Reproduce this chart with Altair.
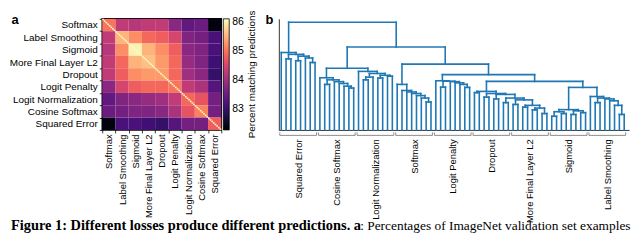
import altair as alt
import pandas as pd

SANS = "Liberation Sans"
SERIF = "Liberation Serif"

# ---------------- panel a : agreement heatmap ----------------
HEAT_GROUPS = ["Softmax", "Label Smoothing", "Sigmoid", "More Final Layer L2", "Dropout",
               "Logit Penalty", "Logit Normalization", "Cosine Softmax", "Squared Error"]
MODELS_PER_GROUP = 8
# mean % matching predictions between groups (rows / cols in HEAT_GROUPS order)
BLOCK_AGREEMENT = [
    [85.0, 84.3, 84.2, 84.3, 84.3, 83.8, 83.4, 83.5, 82.4],
    [84.3, 85.5, 85.2, 84.9, 84.8, 84.5, 83.7, 83.6, 83.2],
    [84.2, 85.2, 86.0, 85.5, 85.2, 84.8, 83.8, 83.7, 83.2],
    [84.3, 84.9, 85.5, 85.6, 85.3, 84.9, 83.9, 83.7, 83.1],
    [84.3, 84.8, 85.2, 85.3, 85.3, 84.9, 84.0, 83.8, 83.0],
    [83.8, 84.5, 84.8, 84.9, 84.9, 85.0, 84.3, 84.1, 83.3],
    [83.4, 83.7, 83.8, 83.9, 84.0, 84.3, 84.9, 84.7, 83.6],
    [83.5, 83.6, 83.7, 83.7, 83.8, 84.1, 84.7, 85.1, 83.6],
    [82.4, 83.2, 83.2, 83.1, 83.0, 83.3, 83.6, 83.6, 84.8],
]
SELF_AGREEMENT = 100.0
COLOR_DOMAIN = [82.3, 86.1]
COLOR_TICKS = [83, 84, 85, 86]
COLOR_TITLE = "Percent matching predictions"

# ---------------- panel b : dendrogram ----------------
DENDRO_GROUPS = ["Squared Error", "Cosine Softmax", "Logit Normalization", "Softmax",
                 "Logit Penalty", "Dropout", "More Final Layer L2", "Sigmoid", "Label Smoothing"]
# nested [merge height, left, right]; ints are leaf positions
SE_TREE = [85.0, 0, [83.0, [78.0, 1, 2], [81.0, [76.0, 3, 4], [79.0, 5, [74.0, 6, 7]]]]]
CS_TREE = [57.3, 8, [55.0, [50.0, 9, 10], [53.0, 11, [51.0, 12, [48.0, 13, [46.0, 14, 15]]]]]]
LN_TREE = [64.3, 16, [62.0, [58.0, [55.0, 17, 18], 19], [60.0, [57.0, 20, 21], [59.0, 22, 23]]]]
SM_TREE = [50.0, 24, [43.3, 25, [41.7, 26, [40.0, 27, [37.7, 28, [35.0, 29, [30.7, 30, 31]]]]]]]
LP_TREE = [54.0, 32, [53.5, [47.0, 33, 34], [53.0, 35, [51.7, 36, [50.0, 37, [46.7, 38, 39]]]]]]
DO_ML2_TREE = [42.3, [41.0, 40, 41],
               [40.0, [36.0, 42, 43],
                [39.0, [34.0, 44, 45],
                 [35.0, [30.0, 46, 47],
                  [33.0, [28.0, 48, 49],
                   [27.0, [25.0, 50, 51], [24.0, [22.0, 52, 53], [18.0, 54, 55]]]]]]]]
SG_TREE = [22.3, [20.0, [15.0, 56, 57], [18.0, 58, 59]], [21.0, [17.0, 60, 61], [19.0, 62, 63]]]
LS_TREE = [36.7, 64, [35.0, [30.0, 65, 66], [34.0, 67, [32.0, 68, [27.0, 69, [17.0, 70, 71]]]]]]
ROOT_TREE = [118.3, SE_TREE,
             [91.0, [67.7, CS_TREE, LN_TREE],
              [72.3, SM_TREE,
               [60.7, LP_TREE,
                [53.3, DO_ML2_TREE, [46.7, SG_TREE, LS_TREE]]]]]]
DENDRO_TOP = 122.0

CAPTION_BOLD = "Figure 1: Different losses produce different predictions. a"
CAPTION_REST = ": Percentages of ImageNet validation set examples"

# ---------------- derived tables ----------------
M = MODELS_PER_GROUP
G = len(HEAT_GROUPS)
N = G * M

heat_rows = []
for r in range(G):
    for c in range(G):
        heat_rows.append({"x0": c * M, "x1": c * M + M, "y0": r * M, "y1": r * M + M,
                          "v": BLOCK_AGREEMENT[r][c]})
for i in range(N):
    heat_rows.append({"x0": i, "x1": i + 1, "y0": i, "y1": i + 1, "v": SELF_AGREEMENT})
heat_df = pd.DataFrame(heat_rows)

segs = []


def place(node):
    if isinstance(node, int):
        return float(node), 0.0
    h, left, right = node
    xl, hl = place(left)
    xr, hr = place(right)
    segs.append({"x0": xl, "x1": xl, "h0": hl, "h1": h})
    segs.append({"x0": xr, "x1": xr, "h0": hr, "h1": h})
    segs.append({"x0": xl, "x1": xr, "h0": h, "h1": h})
    return (xl + xr) / 2.0, h


place(ROOT_TREE)
seg_df = pd.DataFrame(segs)

br_span = pd.DataFrame({"x0": [k * M - 0.3 for k in range(G)],
                        "x1": [k * M + M - 1 + 0.3 for k in range(G)]})
br_left = pd.DataFrame({"x0": [k * M - 0.3 for k in range(G)]})
br_right = pd.DataFrame({"x0": [k * M + M - 1 + 0.3 for k in range(G)]})
cap_df = pd.DataFrame({"bold": [CAPTION_BOLD], "rest": [CAPTION_REST], "cb": [COLOR_TITLE]})


def arr(names):
    return "[" + ",".join("'" + s + "'" for s in names) + "]"


HW, HH = 120, 112
DW, DH = 353, 112
CAP_Y = 213

heat_lab = f"datum.value < {N} ? {arr(HEAT_GROUPS)}[floor(datum.value / {M})] : ''"
dendro_lab = f"{arr(DENDRO_GROUPS)}[floor(datum.value / {M})]"

common_lab = dict(labelFont=SANS, labelColor="black",
                  labelFlush=False, labelOverlap=False, labelBound=False)

color_scale = alt.Scale(scheme="magma", domain=COLOR_DOMAIN, clamp=True)

rects = alt.Chart(heat_df).mark_rect().encode(
    x=alt.X("x0:Q", scale=alt.Scale(domain=[0, N], nice=False, zero=False),
            axis=alt.Axis(values=list(range(0, N + 1, M)), labelExpr=heat_lab, labelAngle=270,
                          labelAlign="right", labelBaseline="middle", labelFontSize=9.5,
                          labelOffset=HW / (2 * G), labelPadding=1, tickSize=3,
                          tickColor="black", tickWidth=0.8, domain=False, grid=False,
                          title=None, **common_lab)),
    x2="x1:Q",
    y=alt.Y("y0:Q", scale=alt.Scale(domain=[0, N], nice=False, zero=False, reverse=True),
            axis=alt.Axis(values=list(range(0, N + 1, M)), labelExpr=heat_lab,
                          labelAlign="right", labelBaseline="middle", labelFontSize=10,
                          labelOffset=HH / (2 * G), labelPadding=2, tickSize=3,
                          tickColor="black", tickWidth=0.8, domain=False, grid=False,
                          title="a", titleAngle=0, titleX=-92, titleY=-5, titleAlign="left",
                          titleBaseline="top", titleFont=SANS, titleFontSize=13,
                          titleFontWeight="bold", titleColor="black", **common_lab)),
    y2="y1:Q",
    color=alt.Color("v:Q", scale=color_scale,
                    legend=alt.Legend(title=None, values=COLOR_TICKS, orient="right",
                                      offset=2, padding=0, gradientLength=HH,
                                      gradientThickness=6, gradientStrokeColor="black",
                                      gradientStrokeWidth=0.8, labelFont=SANS,
                                      labelFontSize=10.5, labelColor="black", labelOffset=3)),
)

cb_title = alt.Chart(cap_df).mark_text(
    font=SANS, fontSize=10, angle=270, align="center", baseline="middle",
    color="black").encode(text="cb:N", x=alt.value(HW + 31), y=alt.value(HH / 2))

cap_bold = alt.Chart(cap_df).mark_text(
    font=SERIF, fontWeight="bold", fontSize=14.5, align="left", baseline="alphabetic",
    color="black").encode(text="bold:N", x=alt.value(-92), y=alt.value(CAP_Y))
cap_rest = alt.Chart(cap_df).mark_text(
    font=SERIF, fontSize=13.5, align="left", baseline="alphabetic",
    color="black").encode(text="rest:N", x=alt.value(260), y=alt.value(CAP_Y))

heat = alt.layer(rects, cb_title, cap_bold, cap_rest).properties(
    width=HW, height=HH, view=alt.ViewBackground(stroke="black", strokeWidth=1.5))

BLUE = "#1f77b4"
lines = alt.Chart(seg_df).mark_rule(color=BLUE, strokeWidth=1.6, strokeCap="square").encode(
    x=alt.X("x0:Q", scale=alt.Scale(domain=[-0.5, N], nice=False, zero=False),
            axis=alt.Axis(values=[k * M + (M - 1) / 2 for k in range(G)], labelExpr=dendro_lab,
                          ticks=False, domain=True, domainColor="black", domainWidth=0.8,
                          labelAngle=270, labelAlign="right", labelBaseline="middle",
                          labelFontSize=9.5, labelPadding=9, grid=False, title=None,
                          **common_lab)),
    x2="x1:Q",
    y=alt.Y("h0:Q", scale=alt.Scale(domain=[0, DENDRO_TOP], nice=False, zero=False),
            axis=alt.Axis(labels=False, ticks=False, grid=False, domainColor="black",
                          domainWidth=0.8, title="b", titleAngle=0, titleX=-14, titleY=-5,
                          titleAlign="left", titleBaseline="top", titleFont=SANS,
                          titleFontSize=13, titleFontWeight="bold", titleColor="black")),
    y2="h1:Q",
)
GRAY = "#7f7f7f"
b_h = alt.Chart(br_span).mark_rule(color=GRAY, strokeWidth=0.9).encode(
    x="x0:Q", x2="x1:Q", y=alt.value(DH + 5.5))
b_l = alt.Chart(br_left).mark_rule(color=GRAY, strokeWidth=0.9).encode(
    x="x0:Q", y=alt.value(DH + 2.5), y2=alt.value(DH + 5.5))
b_r = alt.Chart(br_right).mark_rule(color=GRAY, strokeWidth=0.9).encode(
    x="x0:Q", y=alt.value(DH + 2.5), y2=alt.value(DH + 5.5))

dendro = alt.layer(lines, b_h, b_l, b_r).properties(width=DW, height=DH)

chart = alt.hconcat(heat, dendro, spacing=58, bounds="flush").resolve_scale(
    color="independent").resolve_legend(color="independent").properties(
    padding=0).configure_view(strokeWidth=0)

chart.save("out.html", embed_options={"renderer": "svg", "actions": False})
